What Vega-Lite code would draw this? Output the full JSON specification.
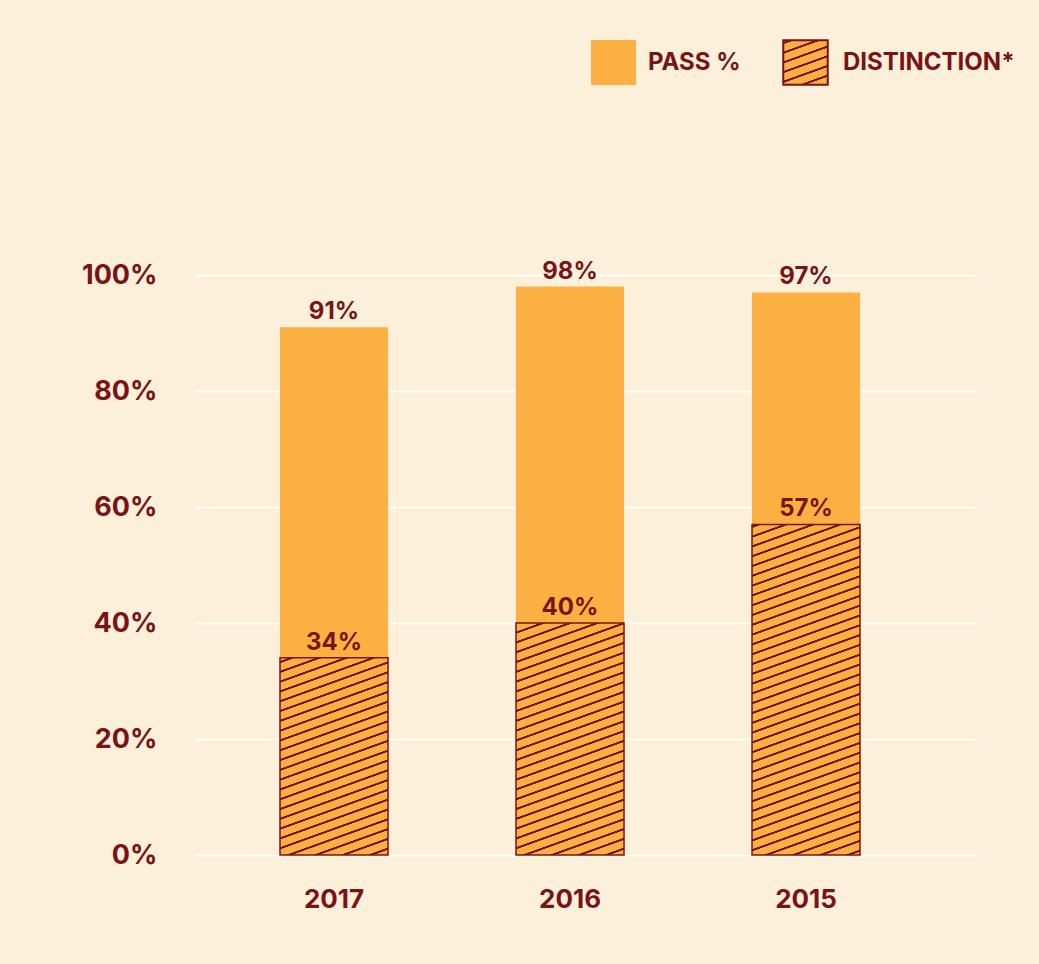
{
  "$schema": "https://vega.github.io/schema/vega-lite/v6.json",
  "width": 782,
  "height": 580,
  "autosize": "none",
  "padding": {"left": 195, "top": 275, "right": 62, "bottom": 109},
  "background": "#FDF0DB",
  "config": {
    "view": {"stroke": null},
    "font": "Inter",
    "axis": {"domain": false, "ticks": false, "labelFont": "Inter", "labelFontWeight": "bold", "labelColor": "#7A1315", "title": null},
    "legend": {"labelFont": "Inter", "labelFontWeight": "bold", "labelColor": "#7A1315", "labelFontSize": 24, "labelLimit": 0, "padding": 0, "title": null}
  },
  "data": {
    "values": [
      {"year": "2017", "pass": 0.91, "distinction": 0.34},
      {"year": "2016", "pass": 0.98, "distinction": 0.40},
      {"year": "2015", "pass": 0.97, "distinction": 0.57}
    ]
  },
  "encoding": {
    "x": {
      "field": "year", "type": "nominal", "sort": ["2017", "2016", "2015"],
      "scale": {"paddingInner": 0, "paddingOuter": 0.1568, "align": 0.284},
      "axis": {"labelAngle": 0, "labelFontSize": 26, "labelPadding": 31, "grid": false}
    }
  },
  "layer": [
    {
      "mark": {"type": "bar", "width": 108, "fill": "#FDB042", "strokeWidth": 0},
      "encoding": {
        "y": {
          "field": "pass", "type": "quantitative", "stack": null,
          "scale": {"domain": [0, 1]},
          "axis": {"values": [0, 0.2, 0.4, 0.6, 0.8, 1], "format": ".0%", "labelFontSize": 27, "labelPadding": 38, "grid": true, "gridColor": "#FFFFFF", "gridWidth": 1.5}
        },
        "stroke": {
          "datum": "PASS %",
          "scale": {"domain": ["PASS %"], "range": ["#FDB042"]},
          "legend": {"orient": "none", "legendX": 396, "legendY": -235, "symbolType": "square", "symbolSize": 2025, "symbolStrokeWidth": 0, "labelOffset": 12}
        }
      }
    },
    {
      "transform": [{"filter": "false"}],
      "mark": {"type": "bar", "width": 108, "stroke": "#7A1315", "strokeWidth": 2, "fill": {"gradient": "linear", "x1": -0.014164, "y1": -0.039345, "x2": 0.471672, "y2": 1.310199, "stops": [
        {"offset": 0.0524, "color": "#FDB042"}, {"offset": 0.0583, "color": "#7A1315"}, {"offset": 0.0845, "color": "#7A1315"}, {"offset": 0.0904, "color": "#FDB042"},
        {"offset": 0.1953, "color": "#FDB042"}, {"offset": 0.2012, "color": "#7A1315"}, {"offset": 0.2274, "color": "#7A1315"}, {"offset": 0.2333, "color": "#FDB042"},
        {"offset": 0.3381, "color": "#FDB042"}, {"offset": 0.3440, "color": "#7A1315"}, {"offset": 0.3702, "color": "#7A1315"}, {"offset": 0.3761, "color": "#FDB042"},
        {"offset": 0.4810, "color": "#FDB042"}, {"offset": 0.4869, "color": "#7A1315"}, {"offset": 0.5131, "color": "#7A1315"}, {"offset": 0.5190, "color": "#FDB042"},
        {"offset": 0.6239, "color": "#FDB042"}, {"offset": 0.6298, "color": "#7A1315"}, {"offset": 0.6560, "color": "#7A1315"}, {"offset": 0.6619, "color": "#FDB042"},
        {"offset": 0.7667, "color": "#FDB042"}, {"offset": 0.7726, "color": "#7A1315"}, {"offset": 0.7988, "color": "#7A1315"}, {"offset": 0.8047, "color": "#FDB042"},
        {"offset": 0.9096, "color": "#FDB042"}, {"offset": 0.9155, "color": "#7A1315"}, {"offset": 0.9417, "color": "#7A1315"}, {"offset": 0.9476, "color": "#FDB042"}
      ]}},
      "encoding": {
        "y": {"field": "distinction", "type": "quantitative", "stack": null},
        "strokeDash": {
          "datum": "DISTINCTION*",
          "scale": {"domain": ["DISTINCTION*"], "range": [[1, 0]]},
          "legend": {"orient": "none", "legendX": 587, "legendY": -236, "symbolType": "square", "symbolSize": 1980, "symbolStrokeWidth": 2, "labelOffset": 14}
        }
      }
    },
    {
      "transform": [{"filter": "datum.year === '2017'"}],
      "mark": {"type": "bar", "width": 108, "stroke": "#7A1315", "strokeWidth": 1.5, "fill": {"gradient": "linear", "x1": -0.000577, "y1": -0.002929, "x2": 0.357816, "y2": 1.814849, "stops": [
        {"offset": 0.0097, "color": "#FDB042"}, {"offset": 0.0108, "color": "#7A1315"}, {"offset": 0.0156, "color": "#7A1315"}, {"offset": 0.0167, "color": "#FDB042"},
        {"offset": 0.0360, "color": "#FDB042"}, {"offset": 0.0371, "color": "#7A1315"}, {"offset": 0.0419, "color": "#7A1315"}, {"offset": 0.0430, "color": "#FDB042"},
        {"offset": 0.0623, "color": "#FDB042"}, {"offset": 0.0634, "color": "#7A1315"}, {"offset": 0.0682, "color": "#7A1315"}, {"offset": 0.0693, "color": "#FDB042"},
        {"offset": 0.0886, "color": "#FDB042"}, {"offset": 0.0897, "color": "#7A1315"}, {"offset": 0.0945, "color": "#7A1315"}, {"offset": 0.0956, "color": "#FDB042"},
        {"offset": 0.1149, "color": "#FDB042"}, {"offset": 0.1160, "color": "#7A1315"}, {"offset": 0.1208, "color": "#7A1315"}, {"offset": 0.1219, "color": "#FDB042"},
        {"offset": 0.1412, "color": "#FDB042"}, {"offset": 0.1423, "color": "#7A1315"}, {"offset": 0.1471, "color": "#7A1315"}, {"offset": 0.1482, "color": "#FDB042"},
        {"offset": 0.1676, "color": "#FDB042"}, {"offset": 0.1687, "color": "#7A1315"}, {"offset": 0.1735, "color": "#7A1315"}, {"offset": 0.1746, "color": "#FDB042"},
        {"offset": 0.1939, "color": "#FDB042"}, {"offset": 0.1950, "color": "#7A1315"}, {"offset": 0.1998, "color": "#7A1315"}, {"offset": 0.2009, "color": "#FDB042"},
        {"offset": 0.2202, "color": "#FDB042"}, {"offset": 0.2213, "color": "#7A1315"}, {"offset": 0.2261, "color": "#7A1315"}, {"offset": 0.2272, "color": "#FDB042"},
        {"offset": 0.2465, "color": "#FDB042"}, {"offset": 0.2476, "color": "#7A1315"}, {"offset": 0.2524, "color": "#7A1315"}, {"offset": 0.2535, "color": "#FDB042"},
        {"offset": 0.2728, "color": "#FDB042"}, {"offset": 0.2739, "color": "#7A1315"}, {"offset": 0.2787, "color": "#7A1315"}, {"offset": 0.2798, "color": "#FDB042"},
        {"offset": 0.2991, "color": "#FDB042"}, {"offset": 0.3002, "color": "#7A1315"}, {"offset": 0.3050, "color": "#7A1315"}, {"offset": 0.3061, "color": "#FDB042"},
        {"offset": 0.3254, "color": "#FDB042"}, {"offset": 0.3265, "color": "#7A1315"}, {"offset": 0.3313, "color": "#7A1315"}, {"offset": 0.3324, "color": "#FDB042"},
        {"offset": 0.3518, "color": "#FDB042"}, {"offset": 0.3529, "color": "#7A1315"}, {"offset": 0.3577, "color": "#7A1315"}, {"offset": 0.3588, "color": "#FDB042"},
        {"offset": 0.3781, "color": "#FDB042"}, {"offset": 0.3792, "color": "#7A1315"}, {"offset": 0.3840, "color": "#7A1315"}, {"offset": 0.3851, "color": "#FDB042"},
        {"offset": 0.4044, "color": "#FDB042"}, {"offset": 0.4055, "color": "#7A1315"}, {"offset": 0.4103, "color": "#7A1315"}, {"offset": 0.4114, "color": "#FDB042"},
        {"offset": 0.4307, "color": "#FDB042"}, {"offset": 0.4318, "color": "#7A1315"}, {"offset": 0.4366, "color": "#7A1315"}, {"offset": 0.4377, "color": "#FDB042"},
        {"offset": 0.4570, "color": "#FDB042"}, {"offset": 0.4581, "color": "#7A1315"}, {"offset": 0.4629, "color": "#7A1315"}, {"offset": 0.4640, "color": "#FDB042"},
        {"offset": 0.4833, "color": "#FDB042"}, {"offset": 0.4844, "color": "#7A1315"}, {"offset": 0.4892, "color": "#7A1315"}, {"offset": 0.4903, "color": "#FDB042"},
        {"offset": 0.5097, "color": "#FDB042"}, {"offset": 0.5108, "color": "#7A1315"}, {"offset": 0.5156, "color": "#7A1315"}, {"offset": 0.5167, "color": "#FDB042"},
        {"offset": 0.5360, "color": "#FDB042"}, {"offset": 0.5371, "color": "#7A1315"}, {"offset": 0.5419, "color": "#7A1315"}, {"offset": 0.5430, "color": "#FDB042"},
        {"offset": 0.5623, "color": "#FDB042"}, {"offset": 0.5634, "color": "#7A1315"}, {"offset": 0.5682, "color": "#7A1315"}, {"offset": 0.5693, "color": "#FDB042"},
        {"offset": 0.5886, "color": "#FDB042"}, {"offset": 0.5897, "color": "#7A1315"}, {"offset": 0.5945, "color": "#7A1315"}, {"offset": 0.5956, "color": "#FDB042"},
        {"offset": 0.6149, "color": "#FDB042"}, {"offset": 0.6160, "color": "#7A1315"}, {"offset": 0.6208, "color": "#7A1315"}, {"offset": 0.6219, "color": "#FDB042"},
        {"offset": 0.6412, "color": "#FDB042"}, {"offset": 0.6423, "color": "#7A1315"}, {"offset": 0.6471, "color": "#7A1315"}, {"offset": 0.6482, "color": "#FDB042"}
      ]}},
      "encoding": {
        "y": {"field": "distinction", "type": "quantitative", "stack": null}
      }
    },
    {
      "transform": [{"filter": "datum.year === '2016'"}],
      "mark": {"type": "bar", "width": 108, "stroke": "#7A1315", "strokeWidth": 1.5, "fill": {"gradient": "linear", "x1": -0.003513, "y1": -0.020963, "x2": 0.258143, "y2": 1.540360, "stops": [
        {"offset": 0.0097, "color": "#FDB042"}, {"offset": 0.0108, "color": "#7A1315"}, {"offset": 0.0156, "color": "#7A1315"}, {"offset": 0.0167, "color": "#FDB042"},
        {"offset": 0.0360, "color": "#FDB042"}, {"offset": 0.0371, "color": "#7A1315"}, {"offset": 0.0419, "color": "#7A1315"}, {"offset": 0.0430, "color": "#FDB042"},
        {"offset": 0.0623, "color": "#FDB042"}, {"offset": 0.0634, "color": "#7A1315"}, {"offset": 0.0682, "color": "#7A1315"}, {"offset": 0.0693, "color": "#FDB042"},
        {"offset": 0.0886, "color": "#FDB042"}, {"offset": 0.0897, "color": "#7A1315"}, {"offset": 0.0945, "color": "#7A1315"}, {"offset": 0.0956, "color": "#FDB042"},
        {"offset": 0.1149, "color": "#FDB042"}, {"offset": 0.1160, "color": "#7A1315"}, {"offset": 0.1208, "color": "#7A1315"}, {"offset": 0.1219, "color": "#FDB042"},
        {"offset": 0.1412, "color": "#FDB042"}, {"offset": 0.1423, "color": "#7A1315"}, {"offset": 0.1471, "color": "#7A1315"}, {"offset": 0.1482, "color": "#FDB042"},
        {"offset": 0.1676, "color": "#FDB042"}, {"offset": 0.1687, "color": "#7A1315"}, {"offset": 0.1735, "color": "#7A1315"}, {"offset": 0.1746, "color": "#FDB042"},
        {"offset": 0.1939, "color": "#FDB042"}, {"offset": 0.1950, "color": "#7A1315"}, {"offset": 0.1998, "color": "#7A1315"}, {"offset": 0.2009, "color": "#FDB042"},
        {"offset": 0.2202, "color": "#FDB042"}, {"offset": 0.2213, "color": "#7A1315"}, {"offset": 0.2261, "color": "#7A1315"}, {"offset": 0.2272, "color": "#FDB042"},
        {"offset": 0.2465, "color": "#FDB042"}, {"offset": 0.2476, "color": "#7A1315"}, {"offset": 0.2524, "color": "#7A1315"}, {"offset": 0.2535, "color": "#FDB042"},
        {"offset": 0.2728, "color": "#FDB042"}, {"offset": 0.2739, "color": "#7A1315"}, {"offset": 0.2787, "color": "#7A1315"}, {"offset": 0.2798, "color": "#FDB042"},
        {"offset": 0.2991, "color": "#FDB042"}, {"offset": 0.3002, "color": "#7A1315"}, {"offset": 0.3050, "color": "#7A1315"}, {"offset": 0.3061, "color": "#FDB042"},
        {"offset": 0.3254, "color": "#FDB042"}, {"offset": 0.3265, "color": "#7A1315"}, {"offset": 0.3313, "color": "#7A1315"}, {"offset": 0.3324, "color": "#FDB042"},
        {"offset": 0.3518, "color": "#FDB042"}, {"offset": 0.3529, "color": "#7A1315"}, {"offset": 0.3577, "color": "#7A1315"}, {"offset": 0.3588, "color": "#FDB042"},
        {"offset": 0.3781, "color": "#FDB042"}, {"offset": 0.3792, "color": "#7A1315"}, {"offset": 0.3840, "color": "#7A1315"}, {"offset": 0.3851, "color": "#FDB042"},
        {"offset": 0.4044, "color": "#FDB042"}, {"offset": 0.4055, "color": "#7A1315"}, {"offset": 0.4103, "color": "#7A1315"}, {"offset": 0.4114, "color": "#FDB042"},
        {"offset": 0.4307, "color": "#FDB042"}, {"offset": 0.4318, "color": "#7A1315"}, {"offset": 0.4366, "color": "#7A1315"}, {"offset": 0.4377, "color": "#FDB042"},
        {"offset": 0.4570, "color": "#FDB042"}, {"offset": 0.4581, "color": "#7A1315"}, {"offset": 0.4629, "color": "#7A1315"}, {"offset": 0.4640, "color": "#FDB042"},
        {"offset": 0.4833, "color": "#FDB042"}, {"offset": 0.4844, "color": "#7A1315"}, {"offset": 0.4892, "color": "#7A1315"}, {"offset": 0.4903, "color": "#FDB042"},
        {"offset": 0.5097, "color": "#FDB042"}, {"offset": 0.5108, "color": "#7A1315"}, {"offset": 0.5156, "color": "#7A1315"}, {"offset": 0.5167, "color": "#FDB042"},
        {"offset": 0.5360, "color": "#FDB042"}, {"offset": 0.5371, "color": "#7A1315"}, {"offset": 0.5419, "color": "#7A1315"}, {"offset": 0.5430, "color": "#FDB042"},
        {"offset": 0.5623, "color": "#FDB042"}, {"offset": 0.5634, "color": "#7A1315"}, {"offset": 0.5682, "color": "#7A1315"}, {"offset": 0.5693, "color": "#FDB042"},
        {"offset": 0.5886, "color": "#FDB042"}, {"offset": 0.5897, "color": "#7A1315"}, {"offset": 0.5945, "color": "#7A1315"}, {"offset": 0.5956, "color": "#FDB042"},
        {"offset": 0.6149, "color": "#FDB042"}, {"offset": 0.6160, "color": "#7A1315"}, {"offset": 0.6208, "color": "#7A1315"}, {"offset": 0.6219, "color": "#FDB042"},
        {"offset": 0.6412, "color": "#FDB042"}, {"offset": 0.6423, "color": "#7A1315"}, {"offset": 0.6471, "color": "#7A1315"}, {"offset": 0.6482, "color": "#FDB042"},
        {"offset": 0.6676, "color": "#FDB042"}, {"offset": 0.6687, "color": "#7A1315"}, {"offset": 0.6735, "color": "#7A1315"}, {"offset": 0.6746, "color": "#FDB042"},
        {"offset": 0.6939, "color": "#FDB042"}, {"offset": 0.6950, "color": "#7A1315"}, {"offset": 0.6998, "color": "#7A1315"}, {"offset": 0.7009, "color": "#FDB042"},
        {"offset": 0.7202, "color": "#FDB042"}, {"offset": 0.7213, "color": "#7A1315"}, {"offset": 0.7261, "color": "#7A1315"}, {"offset": 0.7272, "color": "#FDB042"},
        {"offset": 0.7465, "color": "#FDB042"}, {"offset": 0.7476, "color": "#7A1315"}, {"offset": 0.7524, "color": "#7A1315"}, {"offset": 0.7535, "color": "#FDB042"}
      ]}},
      "encoding": {
        "y": {"field": "distinction", "type": "quantitative", "stack": null}
      }
    },
    {
      "transform": [{"filter": "datum.year === '2015'"}],
      "mark": {"type": "bar", "width": 108, "stroke": "#7A1315", "strokeWidth": 1.5, "fill": {"gradient": "linear", "x1": -0.000842, "y1": -0.007161, "x2": 0.129825, "y2": 1.103909, "stops": [
        {"offset": 0.0097, "color": "#FDB042"}, {"offset": 0.0108, "color": "#7A1315"}, {"offset": 0.0156, "color": "#7A1315"}, {"offset": 0.0167, "color": "#FDB042"},
        {"offset": 0.0360, "color": "#FDB042"}, {"offset": 0.0371, "color": "#7A1315"}, {"offset": 0.0419, "color": "#7A1315"}, {"offset": 0.0430, "color": "#FDB042"},
        {"offset": 0.0623, "color": "#FDB042"}, {"offset": 0.0634, "color": "#7A1315"}, {"offset": 0.0682, "color": "#7A1315"}, {"offset": 0.0693, "color": "#FDB042"},
        {"offset": 0.0886, "color": "#FDB042"}, {"offset": 0.0897, "color": "#7A1315"}, {"offset": 0.0945, "color": "#7A1315"}, {"offset": 0.0956, "color": "#FDB042"},
        {"offset": 0.1149, "color": "#FDB042"}, {"offset": 0.1160, "color": "#7A1315"}, {"offset": 0.1208, "color": "#7A1315"}, {"offset": 0.1219, "color": "#FDB042"},
        {"offset": 0.1412, "color": "#FDB042"}, {"offset": 0.1423, "color": "#7A1315"}, {"offset": 0.1471, "color": "#7A1315"}, {"offset": 0.1482, "color": "#FDB042"},
        {"offset": 0.1676, "color": "#FDB042"}, {"offset": 0.1687, "color": "#7A1315"}, {"offset": 0.1735, "color": "#7A1315"}, {"offset": 0.1746, "color": "#FDB042"},
        {"offset": 0.1939, "color": "#FDB042"}, {"offset": 0.1950, "color": "#7A1315"}, {"offset": 0.1998, "color": "#7A1315"}, {"offset": 0.2009, "color": "#FDB042"},
        {"offset": 0.2202, "color": "#FDB042"}, {"offset": 0.2213, "color": "#7A1315"}, {"offset": 0.2261, "color": "#7A1315"}, {"offset": 0.2272, "color": "#FDB042"},
        {"offset": 0.2465, "color": "#FDB042"}, {"offset": 0.2476, "color": "#7A1315"}, {"offset": 0.2524, "color": "#7A1315"}, {"offset": 0.2535, "color": "#FDB042"},
        {"offset": 0.2728, "color": "#FDB042"}, {"offset": 0.2739, "color": "#7A1315"}, {"offset": 0.2787, "color": "#7A1315"}, {"offset": 0.2798, "color": "#FDB042"},
        {"offset": 0.2991, "color": "#FDB042"}, {"offset": 0.3002, "color": "#7A1315"}, {"offset": 0.3050, "color": "#7A1315"}, {"offset": 0.3061, "color": "#FDB042"},
        {"offset": 0.3254, "color": "#FDB042"}, {"offset": 0.3265, "color": "#7A1315"}, {"offset": 0.3313, "color": "#7A1315"}, {"offset": 0.3324, "color": "#FDB042"},
        {"offset": 0.3518, "color": "#FDB042"}, {"offset": 0.3529, "color": "#7A1315"}, {"offset": 0.3577, "color": "#7A1315"}, {"offset": 0.3588, "color": "#FDB042"},
        {"offset": 0.3781, "color": "#FDB042"}, {"offset": 0.3792, "color": "#7A1315"}, {"offset": 0.3840, "color": "#7A1315"}, {"offset": 0.3851, "color": "#FDB042"},
        {"offset": 0.4044, "color": "#FDB042"}, {"offset": 0.4055, "color": "#7A1315"}, {"offset": 0.4103, "color": "#7A1315"}, {"offset": 0.4114, "color": "#FDB042"},
        {"offset": 0.4307, "color": "#FDB042"}, {"offset": 0.4318, "color": "#7A1315"}, {"offset": 0.4366, "color": "#7A1315"}, {"offset": 0.4377, "color": "#FDB042"},
        {"offset": 0.4570, "color": "#FDB042"}, {"offset": 0.4581, "color": "#7A1315"}, {"offset": 0.4629, "color": "#7A1315"}, {"offset": 0.4640, "color": "#FDB042"},
        {"offset": 0.4833, "color": "#FDB042"}, {"offset": 0.4844, "color": "#7A1315"}, {"offset": 0.4892, "color": "#7A1315"}, {"offset": 0.4903, "color": "#FDB042"},
        {"offset": 0.5097, "color": "#FDB042"}, {"offset": 0.5108, "color": "#7A1315"}, {"offset": 0.5156, "color": "#7A1315"}, {"offset": 0.5167, "color": "#FDB042"},
        {"offset": 0.5360, "color": "#FDB042"}, {"offset": 0.5371, "color": "#7A1315"}, {"offset": 0.5419, "color": "#7A1315"}, {"offset": 0.5430, "color": "#FDB042"},
        {"offset": 0.5623, "color": "#FDB042"}, {"offset": 0.5634, "color": "#7A1315"}, {"offset": 0.5682, "color": "#7A1315"}, {"offset": 0.5693, "color": "#FDB042"},
        {"offset": 0.5886, "color": "#FDB042"}, {"offset": 0.5897, "color": "#7A1315"}, {"offset": 0.5945, "color": "#7A1315"}, {"offset": 0.5956, "color": "#FDB042"},
        {"offset": 0.6149, "color": "#FDB042"}, {"offset": 0.6160, "color": "#7A1315"}, {"offset": 0.6208, "color": "#7A1315"}, {"offset": 0.6219, "color": "#FDB042"},
        {"offset": 0.6412, "color": "#FDB042"}, {"offset": 0.6423, "color": "#7A1315"}, {"offset": 0.6471, "color": "#7A1315"}, {"offset": 0.6482, "color": "#FDB042"},
        {"offset": 0.6676, "color": "#FDB042"}, {"offset": 0.6687, "color": "#7A1315"}, {"offset": 0.6735, "color": "#7A1315"}, {"offset": 0.6746, "color": "#FDB042"},
        {"offset": 0.6939, "color": "#FDB042"}, {"offset": 0.6950, "color": "#7A1315"}, {"offset": 0.6998, "color": "#7A1315"}, {"offset": 0.7009, "color": "#FDB042"},
        {"offset": 0.7202, "color": "#FDB042"}, {"offset": 0.7213, "color": "#7A1315"}, {"offset": 0.7261, "color": "#7A1315"}, {"offset": 0.7272, "color": "#FDB042"},
        {"offset": 0.7465, "color": "#FDB042"}, {"offset": 0.7476, "color": "#7A1315"}, {"offset": 0.7524, "color": "#7A1315"}, {"offset": 0.7535, "color": "#FDB042"},
        {"offset": 0.7728, "color": "#FDB042"}, {"offset": 0.7739, "color": "#7A1315"}, {"offset": 0.7787, "color": "#7A1315"}, {"offset": 0.7798, "color": "#FDB042"},
        {"offset": 0.7991, "color": "#FDB042"}, {"offset": 0.8002, "color": "#7A1315"}, {"offset": 0.8050, "color": "#7A1315"}, {"offset": 0.8061, "color": "#FDB042"},
        {"offset": 0.8254, "color": "#FDB042"}, {"offset": 0.8265, "color": "#7A1315"}, {"offset": 0.8313, "color": "#7A1315"}, {"offset": 0.8324, "color": "#FDB042"},
        {"offset": 0.8518, "color": "#FDB042"}, {"offset": 0.8529, "color": "#7A1315"}, {"offset": 0.8577, "color": "#7A1315"}, {"offset": 0.8588, "color": "#FDB042"},
        {"offset": 0.8781, "color": "#FDB042"}, {"offset": 0.8792, "color": "#7A1315"}, {"offset": 0.8840, "color": "#7A1315"}, {"offset": 0.8851, "color": "#FDB042"},
        {"offset": 0.9044, "color": "#FDB042"}, {"offset": 0.9055, "color": "#7A1315"}, {"offset": 0.9103, "color": "#7A1315"}, {"offset": 0.9114, "color": "#FDB042"},
        {"offset": 0.9307, "color": "#FDB042"}, {"offset": 0.9318, "color": "#7A1315"}, {"offset": 0.9366, "color": "#7A1315"}, {"offset": 0.9377, "color": "#FDB042"},
        {"offset": 0.9570, "color": "#FDB042"}, {"offset": 0.9581, "color": "#7A1315"}, {"offset": 0.9629, "color": "#7A1315"}, {"offset": 0.9640, "color": "#FDB042"},
        {"offset": 0.9833, "color": "#FDB042"}, {"offset": 0.9844, "color": "#7A1315"}, {"offset": 0.9892, "color": "#7A1315"}, {"offset": 0.9903, "color": "#FDB042"}
      ]}},
      "encoding": {
        "y": {"field": "distinction", "type": "quantitative", "stack": null}
      }
    },
    {
      "mark": {"type": "text", "dy": -8, "baseline": "alphabetic", "fontSize": 24, "fontWeight": "bold", "fill": "#7A1315", "font": "Inter"},
      "encoding": {
        "y": {"field": "pass", "type": "quantitative", "stack": null},
        "text": {"field": "pass", "type": "quantitative", "format": ".0%"}
      }
    },
    {
      "mark": {"type": "text", "dy": -8, "baseline": "alphabetic", "fontSize": 24, "fontWeight": "bold", "fill": "#7A1315", "font": "Inter"},
      "encoding": {
        "y": {"field": "distinction", "type": "quantitative", "stack": null},
        "text": {"field": "distinction", "type": "quantitative", "format": ".0%"}
      }
    }
  ]
}
